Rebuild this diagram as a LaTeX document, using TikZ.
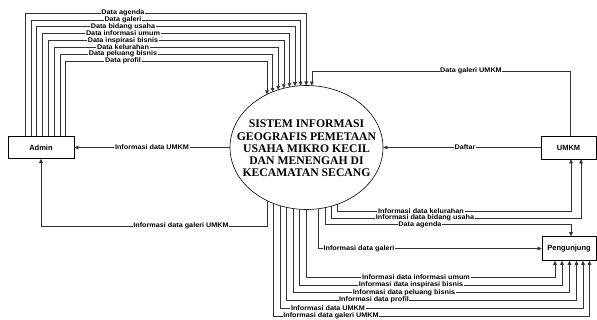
\documentclass[tikz,border=0pt]{standalone}
\usepackage{fontspec}
\setmainfont{Liberation Serif}
\setsansfont{Liberation Sans}
\usetikzlibrary{arrows.meta,shapes.geometric,calc}
\newcommand\eyt[1]{147.5-62*sqrt(1-((#1-306.5)/76.5)^2)}
\newcommand\eyb[1]{147.5+62*sqrt(1-((#1-306.5)/76.5)^2)}
\begin{document}
\begin{tikzpicture}[x=1pt,y=-1pt,
  ln/.style={line width=0.6pt, draw=black!80},
  arr/.style={ln,-{Triangle[length=4pt,width=3.6pt]}},
  lbl/.style={fill=white, inner sep=0.7pt, font=\sffamily\bfseries\fontsize{6.7}{7}\selectfont\addfontfeature{FakeStretch=1.08}},
  box/.style={draw, line width=0.6pt, inner sep=0, font=\sffamily\bfseries\fontsize{7.5}{8}\selectfont}]
\useasboundingbox (0,0) rectangle (597,320);
\node[box, minimum width=66, minimum height=22] (admin) at (41,147.5) {Admin};
\node[box, minimum width=55, minimum height=23] (umkm) at (568.5,147.5) {UMKM};
\node[box, minimum width=54, minimum height=24] (peng) at (569,248.5) {Pengunjung};
\node[ellipse, draw, line width=0.6pt, minimum width=153, minimum height=124, inner sep=0] (sys) at (306.5,147.5) {};
\node[align=center, inner sep=0, font=\bfseries\fontsize{11.7}{12.3}\selectfont] (systxt) at (306.5,148.5)
  {SISTEM INFORMASI\\GEOGRAFIS PEMETAAN\\USAHA MIKRO KECIL\\DAN MENENGAH DI\\KECAMATAN SECANG};
% Admin -> system (top)
\foreach \i/\t in {0/Data agenda,1/Data galeri,2/Data bidang usaha,3/Data informasi umum,4/Data inspirasi bisnis,5/Data kelurahan,6/Data peluang bisnis,7/Data profil}{
  \pgfmathsetmacro\lx{25+5.8*\i}
  \pgfmathsetmacro\ly{13+6.85*\i}
  \pgfmathsetmacro\rx{306.2-5.6*\i}
  \coordinate (ta\i) at (\lx,\ly);
  \coordinate (te\i) at (\rx,{\eyt{\rx}});
  \draw[arr] (admin.north -| ta\i) -- (ta\i) -- (ta\i -| te\i) -- (te\i);
  \node[lbl] (la\i) at (123,\ly) {\t};
}
% UMKM -> system
\coordinate (g1) at (570,71);
\coordinate (ge) at (311.8,{\eyt{311.8}});
\draw[arr] (umkm.north -| g1) -- (g1) -- (g1 -| ge) -- (ge);
\node[lbl] (lg1) at (471,71) {Data galeri UMKM};
\draw[arr] (umkm.west) -- (sys.east);
\node[lbl] (ldaf) at (465,147.5) {Daftar};
% system -> Admin
\draw[arr] (sys.west) -- (admin.east);
\node[lbl] (liu) at (152,147.5) {Informasi data UMKM};
\coordinate (b0) at (267,{\eyb{267}});
\coordinate (c0) at (267,226);
\draw[arr] (b0) -- (c0) -| (admin.south);
\node[lbl] (lgu) at (181,226) {Informasi data galeri UMKM};
% system -> UMKM
\coordinate (bk) at (337,{\eyb{337}});
\coordinate (ck) at (571,211.5);
\draw[arr] (bk) |- (ck) -- (umkm.south -| ck);
\node[lbl] (lkel) at (421,211.5) {Informasi data kelurahan};
\coordinate (bb) at (331,{\eyb{331}});
\coordinate (cb) at (581,218);
\draw[arr] (bb) |- (cb) -- (umkm.south -| cb);
\node[lbl] (lbid) at (425,218) {Informasi data bidang usaha};
% system -> Pengunjung
\coordinate (ba) at (325,{\eyb{325}});
\coordinate (ca) at (571,224.5);
\draw[arr] (ba) |- (ca) -- (peng.north -| ca);
\node[lbl] (lag) at (420,224.5) {Data agenda};
\coordinate (bg) at (318,{\eyb{318}});
\draw[arr] (bg) |- (peng.west);
\node[lbl] (lgal) at (359,248.5) {Informasi data galeri};
\foreach \i/\sx/\sy/\ex/\mx/\t in {
  1/306/277/555/416/Informasi data informasi umum,
  2/299.5/285/562/411/Informasi data inspirasi bisnis,
  3/293/292.5/569.5/404/Informasi data peluang bisnis,
  4/286.5/300/576.5/374/Informasi data profil,
  5/280/308/583/328/Informasi data UMKM,
  6/273.5/316/589.5/331/Informasi data galeri UMKM}{
  \coordinate (bs\i) at (\sx,{\eyb{\sx}});
  \coordinate (cs\i) at (\ex,\sy);
  \draw[arr] (bs\i) |- (cs\i) -- (peng.south -| cs\i);
  \node[lbl] (lp\i) at (\mx,\sy) {\t};
}
\end{tikzpicture}
\end{document}
